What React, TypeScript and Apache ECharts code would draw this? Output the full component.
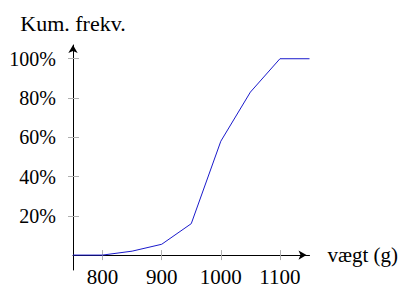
import React, { useEffect, useRef } from "react";
import * as echarts from "echarts";

const weights = [750, 800, 850, 900, 950, 1000, 1050, 1100, 1150];
const cumFreq = [0, 0, 2, 5.5, 16, 58, 83, 100, 100];
const xTicks = [800, 900, 1000, 1100];
const yTicks = [20, 40, 60, 80, 100];

const FONT = "'Liberation Serif', 'DejaVu Serif', serif";
const TICK_COLOR = "#b0b0b0";

export default function App() {
  const ref = useRef<HTMLDivElement>(null);
  useEffect(() => {
    if (!ref.current) return;
    const chart = echarts.init(ref.current, undefined, { renderer: "svg" });
    const xBase = {
      type: "value" as const,
      min: 750,
      max: 1150,
      splitLine: { show: false },
    };
    const yBase = {
      type: "value" as const,
      min: -7.6,
      max: 107,
      splitLine: { show: false },
    };
    chart.setOption({
      animation: false,
      grid: {
        left: 73,
        right: 89.5,
        top: 45,
        bottom: 17,
        containLabel: false,
        outerBoundsMode: "none",
      },
      xAxis: [
        {
          ...xBase,
          position: "bottom",
          axisLine: {
            onZero: true,
            lineStyle: { color: "#000", width: 1 },
            symbol: ["none", "arrow"],
            symbolSize: [7, 8],
            symbolOffset: [0, -3],
          },
          axisTick: {
            show: true,
            length: 5,
            customValues: xTicks,
            lineStyle: { color: TICK_COLOR, width: 1 },
          },
          axisLabel: {
            customValues: xTicks,
            margin: -4,
            color: "#000",
            fontFamily: FONT,
            fontSize: 21,
            formatter: (v: number) => String(v),
          },
          name: "vægt (g)",
          nameLocation: "end",
          nameGap: 18,
          nameTextStyle: { color: "#000", fontFamily: FONT, fontSize: 21 },
        },
        {
          ...xBase,
          position: "top",
          axisLine: { show: false, onZero: true },
          axisTick: {
            show: true,
            length: 5,
            customValues: xTicks,
            lineStyle: { color: TICK_COLOR, width: 1 },
          },
          axisLabel: { show: false },
        },
      ],
      yAxis: [
        {
          ...yBase,
          position: "left",
          axisLine: {
            show: true,
            onZero: false,
            lineStyle: { color: "#000", width: 1 },
            symbol: ["none", "arrow"],
            symbolSize: [7, 8],
          },
          axisTick: {
            show: true,
            length: 5,
            customValues: yTicks,
            lineStyle: { color: TICK_COLOR, width: 1 },
          },
          axisLabel: {
            customValues: yTicks,
            margin: 17,
            color: "#000",
            fontFamily: FONT,
            fontSize: 20,
            formatter: (v: number) => `${v}%`,
          },
          name: "Kum. frekv.",
          nameLocation: "end",
          nameGap: 11,
          nameTextStyle: { color: "#000", fontFamily: FONT, fontSize: 22 },
        },
        {
          ...yBase,
          position: "left",
          axisLine: { show: false, onZero: false },
          axisTick: {
            show: true,
            inside: true,
            length: 6,
            customValues: yTicks,
            lineStyle: { color: TICK_COLOR, width: 1 },
          },
          axisLabel: { show: false },
        },
      ],
      series: [
        {
          type: "line",
          xAxisIndex: 0,
          yAxisIndex: 0,
          data: weights.map((w, i) => [w, cumFreq[i]]),
          symbol: "none",
          lineStyle: { color: "#1a1acc", width: 1 },
          z: 5,
        },
      ],
    });
    return () => chart.dispose();
  }, []);
  return <div ref={ref} style={{ width: 399, height: 287, position: "absolute", left: 0, top: 0 }} />;
}
